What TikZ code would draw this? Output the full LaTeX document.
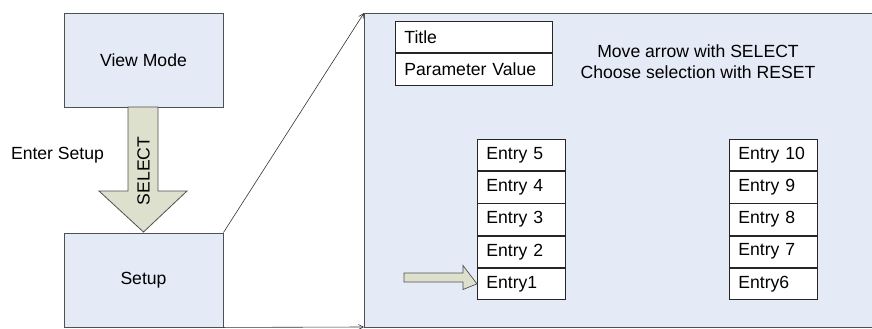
\documentclass[tikz,border=0pt]{standalone}
\usepackage{fontspec}
\setmainfont{Liberation Sans}
\usetikzlibrary{arrows.meta}
\definecolor{boxfill}{RGB}{228,234,246}
\definecolor{arrowfill}{RGB}{221,224,204}
\definecolor{edge}{RGB}{80,80,80}
\tikzset{
  modebox/.style={draw=edge, fill=boxfill, line width=0.9pt, minimum width=159pt, minimum height=94pt, inner sep=0pt},
  entrybox/.style={draw=black!85, fill=white, line width=0.8pt, minimum height=31.4pt, text width=70pt, inner xsep=9pt, inner ysep=0pt, align=left},
  tablebox/.style={draw=black!85, fill=white, line width=0.8pt, minimum height=31.5pt, text width=139pt, inner xsep=9pt, inner ysep=0pt, align=left},
  bigarrow/.style={draw=edge, fill=arrowfill, line width=0.8pt},
  zoomline/.style={draw=black!80, line width=0.6pt, -{Straight Barb[length=5pt,width=5pt]}},
  lbl/.style={inner sep=0pt}
}
\begin{document}
\begin{tikzpicture}[x=1pt,y=-1pt, font=\fontsize{17.6}{20}\selectfont]
\useasboundingbox (0,0) rectangle (872,329);
% panel
\fill[boxfill] (364,13) rectangle (872,327);
\draw[edge, line width=0.9pt] (872,13) -- (364,13) -- (364,327) -- (872,327);
\coordinate (ptl) at (364,13);
\coordinate (pbl) at (364,327);
% left boxes
\node[modebox] (view) at (143.5,60) {View Mode};
\node[modebox] (setup) at (143.5,280) {Setup};
% big arrow
\draw[bigarrow] (128,107) -- (158,107) -- (158,191) -- (187,191) -- (143.5,232) -- (99,191) -- (128,191) -- cycle;
\node[lbl, rotate=90] (sel) at (143.5,171) {SELECT};
\node[lbl] (enter) at (57.5,155) {Enter Setup};
% zoom lines
\draw[zoomline] (setup.north east) -- (ptl);
\draw[zoomline] (setup.south east) -- (pbl);
% title table
\node[tablebox, anchor=north west] (title) at (395,21) {Title};
\node[tablebox, anchor=north] (param) at (title.south) {Parameter Value};
% instructions
\node[lbl, align=center, font=\fontsize{17.6}{21}\selectfont] (instr) at (698,61.5) {Move arrow with SELECT\\Choose selection with RESET};
% entries column 1
\node[entrybox, anchor=north west] (e5) at (477,139) {Entry 5};
\node[entrybox, anchor=north] (e4) at (e5.south) {Entry 4};
\node[entrybox, anchor=north] (e3) at (e4.south) {Entry 3};
\node[entrybox, anchor=north] (e2) at (e3.south) {Entry 2};
\node[entrybox, anchor=north] (e1) at (e2.south) {Entry1};
% entries column 2
\node[entrybox, anchor=north west] (e10) at (729,139) {Entry 10};
\node[entrybox, anchor=north] (e9) at (e10.south) {Entry 9};
\node[entrybox, anchor=north] (e8) at (e9.south) {Entry 8};
\node[entrybox, anchor=north] (e7) at (e8.south) {Entry 7};
\node[entrybox, anchor=north] (e6) at (e7.south) {Entry6};
% small arrow
\draw[bigarrow, line width=0.7pt] (404,273) -- (463,273) -- (463,265.5) -- (e1.west) -- (463,289.5) -- (463,282) -- (404,282) -- cycle;
\end{tikzpicture}
\end{document}
